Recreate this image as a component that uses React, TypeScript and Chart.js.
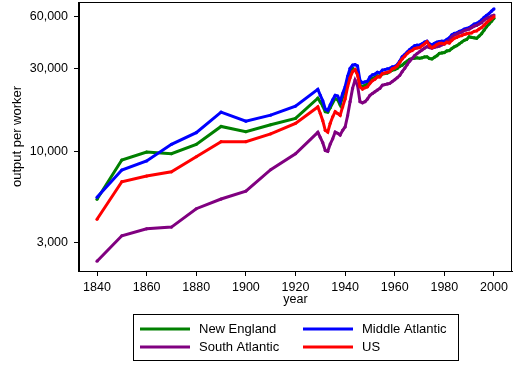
import React, { useEffect, useRef } from "react";
import { Chart, registerables } from "chart.js";

Chart.register(...registerables);

const years = [
  1840, 1850, 1860, 1870, 1880, 1890, 1900, 1910, 1920,
  1929, 1930, 1931, 1932, 1933, 1934, 1935, 1936, 1937, 1938, 1939,
  1940, 1941, 1942, 1943, 1944, 1945, 1946, 1947, 1948, 1949,
  1950, 1951, 1952, 1953, 1954, 1955, 1956, 1957, 1958, 1959,
  1960, 1961, 1962, 1963, 1964, 1965, 1966, 1967, 1968, 1969,
  1970, 1971, 1972, 1973, 1974, 1975, 1976, 1977, 1978, 1979,
  1980, 1981, 1982, 1983, 1984, 1985, 1986, 1987, 1988, 1989,
  1990, 1991, 1992, 1993, 1994, 1995, 1996, 1997, 1998, 1999, 2000,
];

const newEngland = [
  5290, 8900, 9900, 9680, 10960, 13900, 12950, 14210, 15450,
  20200, 19200, 18200, 16900, 16800, 17800, 19000, 20100, 19800, 18500, 20500,
  22500, 26000, 29000, 30000, 29500, 28000, 24000, 23500, 24000, 24300,
  25700, 26300, 26600, 27200, 27000, 27800, 28000, 28200, 28700, 29300,
  29500, 30000, 30800, 31300, 32200, 33000, 33800, 34200, 34300, 34500,
  34300, 34500, 34900, 35000, 34200, 34000, 34800, 35500, 36600, 36800,
  37000, 37800, 38000, 39000, 39900, 40500, 41500, 42500, 43500, 44000,
  45600, 45200, 45000, 44700, 46000, 47500, 49800, 52000, 54000, 56000, 58200,
];

const middleAtlantic = [
  5430, 7800, 8790, 10960, 12790, 16800, 14900, 16150, 18200,
  22700, 21000, 19500, 17500, 17200, 18500, 19800, 21000, 20800, 19300, 21500,
  23500, 27000, 30000, 31300, 31500, 31000, 25500, 24800, 25100, 25300,
  26800, 27500, 27800, 28500, 28200, 29300, 29500, 29800, 30000, 30600,
  30800, 31500, 33000, 35000, 36000, 37200, 38500, 39500, 40500, 40800,
  40800, 41500, 42500, 43000, 41500, 41000, 41800, 42500, 42800, 43000,
  43000, 44000, 45000, 46800, 47700, 48000, 49000, 49500, 50500, 51000,
  51500, 52500, 54000, 54500, 55500, 57000, 59000, 60500, 62000, 64000, 66000,
];

const southAtlantic = [
  2330, 3265, 3580, 3660, 4670, 5310, 5900, 7830, 9680,
  12850, 12000, 11200, 10100, 10000, 11000, 11800, 12900, 12700, 12400, 13200,
  13800, 16000, 19300, 23000, 25700, 24000, 19300, 19000, 19300, 20000,
  21000, 21500, 22000, 22500, 23000, 24000, 24200, 24400, 24600, 25200,
  25800, 26500, 27300, 28700, 30000, 31500, 33000, 34200, 35500, 36500,
  37400, 38300, 39200, 40000, 39500, 39200, 39600, 40000, 40300, 41000,
  41500, 42800, 43500, 45500, 46700, 47200, 48000, 48500, 49500, 50000,
  50500, 51500, 52500, 53000, 54000, 55000, 56900, 58000, 59000, 60000, 60800,
];

const us = [
  4060, 6680, 7200, 7620, 9300, 11350, 11350, 12600, 14480,
  18000, 16500, 15000, 13200, 12900, 14500, 15800, 16900, 16500, 16100, 18000,
  20000, 23500, 26500, 28700, 29500, 27500, 23500, 22800, 23200, 23500,
  24600, 25500, 26000, 26800, 26800, 28000, 28200, 28500, 28700, 29800,
  30200, 31000, 32500, 34000, 35200, 36500, 37500, 38000, 39000, 39300,
  39500, 40500, 41500, 42700, 40500, 39500, 40200, 41200, 41800, 41800,
  41500, 42300, 42000, 43500, 44700, 45200, 46000, 46300, 47000, 47500,
  47800, 48000, 49000, 49300, 50500, 51500, 53200, 55000, 56500, 58000, 59500,
];

const seriesLabels = ["New England", "Middle Atlantic", "South Atlantic", "US"];
const seriesColors = ["#008000", "#0000ff", "#800080", "#ff0000"];
const xTicks = [1840, 1860, 1880, 1900, 1920, 1940, 1960, 1980, 2000];
const yTicks = [3000, 10000, 30000, 60000];

const FONT = "'Liberation Sans', Arial, Helvetica, sans-serif";

const framePlugin = {
  id: "frameAndLegend",
  afterDraw(chart: any) {
    const { ctx, chartArea } = chart;
    ctx.save();
    ctx.strokeStyle = "#000";
    ctx.lineWidth = 1;
    ctx.strokeRect(
      Math.round(chartArea.left) - 0.5,
      Math.round(chartArea.top) + 0.5,
      Math.round(chartArea.right - chartArea.left),
      Math.round(chartArea.bottom - chartArea.top)
    );
    // legend box
    ctx.strokeRect(133.5, 314.5, 325, 46);
    const cols = [
      { lx: 140, tx: 199 },
      { lx: 303, tx: 362 },
    ];
    const rows = [329, 347];
    ctx.font = `13px ${FONT}`;
    ctx.textBaseline = "middle";
    ctx.textAlign = "left";
    chart.data.datasets.forEach((ds: any, i: number) => {
      const c = cols[i % 2];
      const r = rows[Math.floor(i / 2)];
      ctx.strokeStyle = ds.borderColor;
      ctx.lineWidth = 3;
      ctx.beginPath();
      ctx.moveTo(c.lx, r);
      ctx.lineTo(c.lx + 50, r);
      ctx.stroke();
      ctx.fillStyle = "#000";
      ctx.fillText(ds.label, c.tx, r + 0.5);
    });
    ctx.restore();
  },
};

export default function App() {
  const ref = useRef<HTMLCanvasElement | null>(null);

  useEffect(() => {
    if (!ref.current) return;
    const all = [newEngland, middleAtlantic, southAtlantic, us];
    const drawOrder = [3, 2, 1, 0];
    const chart = new Chart(ref.current, {
      type: "line",
      data: {
        datasets: all.map((vals, i) => ({
          label: seriesLabels[i],
          data: years.map((y, j) => ({ x: y, y: vals[j] })),
          borderColor: seriesColors[i],
          backgroundColor: seriesColors[i],
          borderWidth: 3,
          pointRadius: 1.6,
          pointBorderWidth: 0,
          pointHoverRadius: 0,
          tension: 0,
          fill: false,
          order: drawOrder[i],
        })),
      },
      options: {
        responsive: false,
        animation: false,
        events: [],
        layout: { padding: { left: 0, top: 2, right: 2, bottom: 56 } },
        plugins: {
          legend: { display: false },
          tooltip: { enabled: false },
        },
        scales: {
          x: {
            type: "linear",
            min: 1832.74,
            max: 2007.26,
            afterBuildTicks: (s: any) => {
              s.ticks = xTicks.map((v) => ({ value: v }));
            },
            afterFit: (s: any) => {
              s.height = 40;
              s.paddingLeft = 0;
              s.paddingRight = 0;
              s.paddingTop = 0;
              s.paddingBottom = 0;
            },
            grid: {
              display: true,
              drawOnChartArea: false,
              drawTicks: true,
              tickLength: 5,
              color: "#000",
            },
            border: { display: true, color: "#000", width: 1 },
            ticks: {
              color: "#000",
              font: { family: FONT, size: 12.5 },
              padding: 4,
              maxRotation: 0,
              autoSkip: false,
              callback: (v: any) => String(v),
            },
            title: {
              display: true,
              text: "year",
              color: "#000",
              font: { family: FONT, size: 12.5 },
              padding: { top: 0, bottom: 4 },
            },
          },
          y: {
            type: "logarithmic",
            min: 2046,
            max: 72300,
            afterBuildTicks: (s: any) => {
              s.ticks = yTicks.map((v) => ({ value: v }));
            },
            afterFit: (s: any) => {
              s.width = 79;
              s.paddingLeft = 0;
              s.paddingRight = 0;
              s.paddingTop = 0;
              s.paddingBottom = 0;
            },
            grid: {
              display: true,
              drawOnChartArea: false,
              drawTicks: true,
              tickLength: 5,
              color: "#000",
            },
            border: { display: true, color: "#000", width: 1 },
            ticks: {
              color: "#000",
              font: { family: FONT, size: 12.5 },
              padding: 6,
              autoSkip: false,
              callback: (v: any) => Number(v).toLocaleString("en-US"),
            },
            title: {
              display: true,
              text: "output per worker",
              color: "#000",
              font: { family: FONT, size: 13 },
              padding: { top: 10, bottom: 0 },
            },
          },
        },
      },
      plugins: [framePlugin],
    });
    return () => chart.destroy();
  }, []);

  return (
    <div style={{ position: "fixed", left: 0, top: 0, width: 514, height: 367, background: "#fff" }}>
      <canvas ref={ref} width={514} height={367} style={{ display: "block" }} />
    </div>
  );
}
